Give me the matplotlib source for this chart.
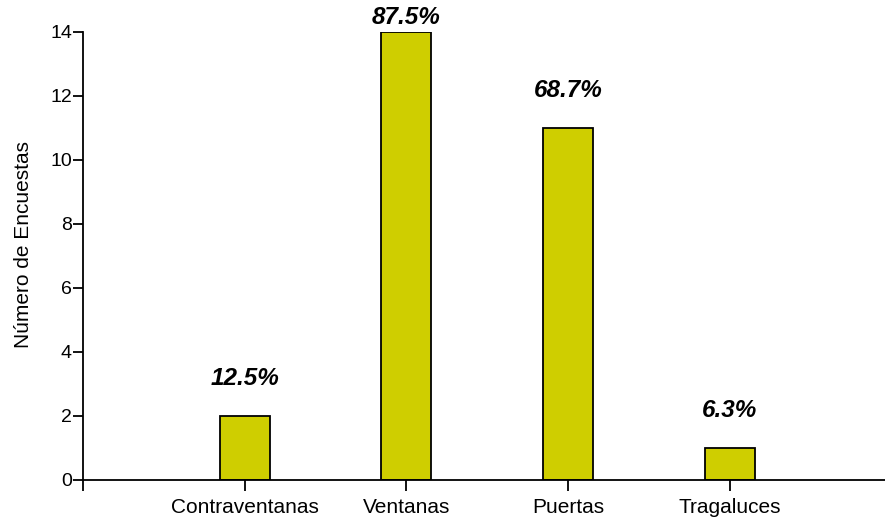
import matplotlib.pyplot as plt

plt.rcParams['font.family'] = ['Liberation Sans', 'DejaVu Sans']

categorias = ['Contraventanas', 'Ventanas', 'Puertas', 'Tragaluces']
encuestas = [2, 14, 11, 1]
porcentajes = ['12.5%', '87.5%', '68.7%', '6.3%']

fig = plt.figure(figsize=(8.85, 5.18), dpi=100)
ax = fig.add_axes([83 / 885, 38 / 518, 1 - 83 / 885, (480 - 32) / 518])

pos = [1, 2, 3, 4]
ax.bar(pos, encuestas, width=0.31, color='#CFCE00', edgecolor='black', linewidth=1.3)

for p, v, t in zip(pos, encuestas, porcentajes):
    y = min(v + 0.8, 14.1)
    ax.text(p, y, t, ha='center', va='bottom', fontsize=17.5,
            fontweight='bold', fontstyle='italic', clip_on=False)

ax.set_xlim(0, 4.96)
ax.set_ylim(0, 14)
ax.set_xticks([0] + pos)
ax.set_xticklabels([''] + categorias, fontsize=15)
ax.set_yticks(range(0, 15, 2))
ax.tick_params(axis='y', labelsize=14, length=7, width=1.3, pad=1)
ax.tick_params(axis='x', length=8, width=1.3, pad=5)
ax.set_ylabel('Número de Encuestas', fontsize=15)
ax.yaxis.set_label_coords(-0.062, 0.525)

for s in ['top', 'right']:
    ax.spines[s].set_visible(False)
for s in ['left', 'bottom']:
    ax.spines[s].set_linewidth(1.3)

fig.savefig('out.png', dpi=100)
